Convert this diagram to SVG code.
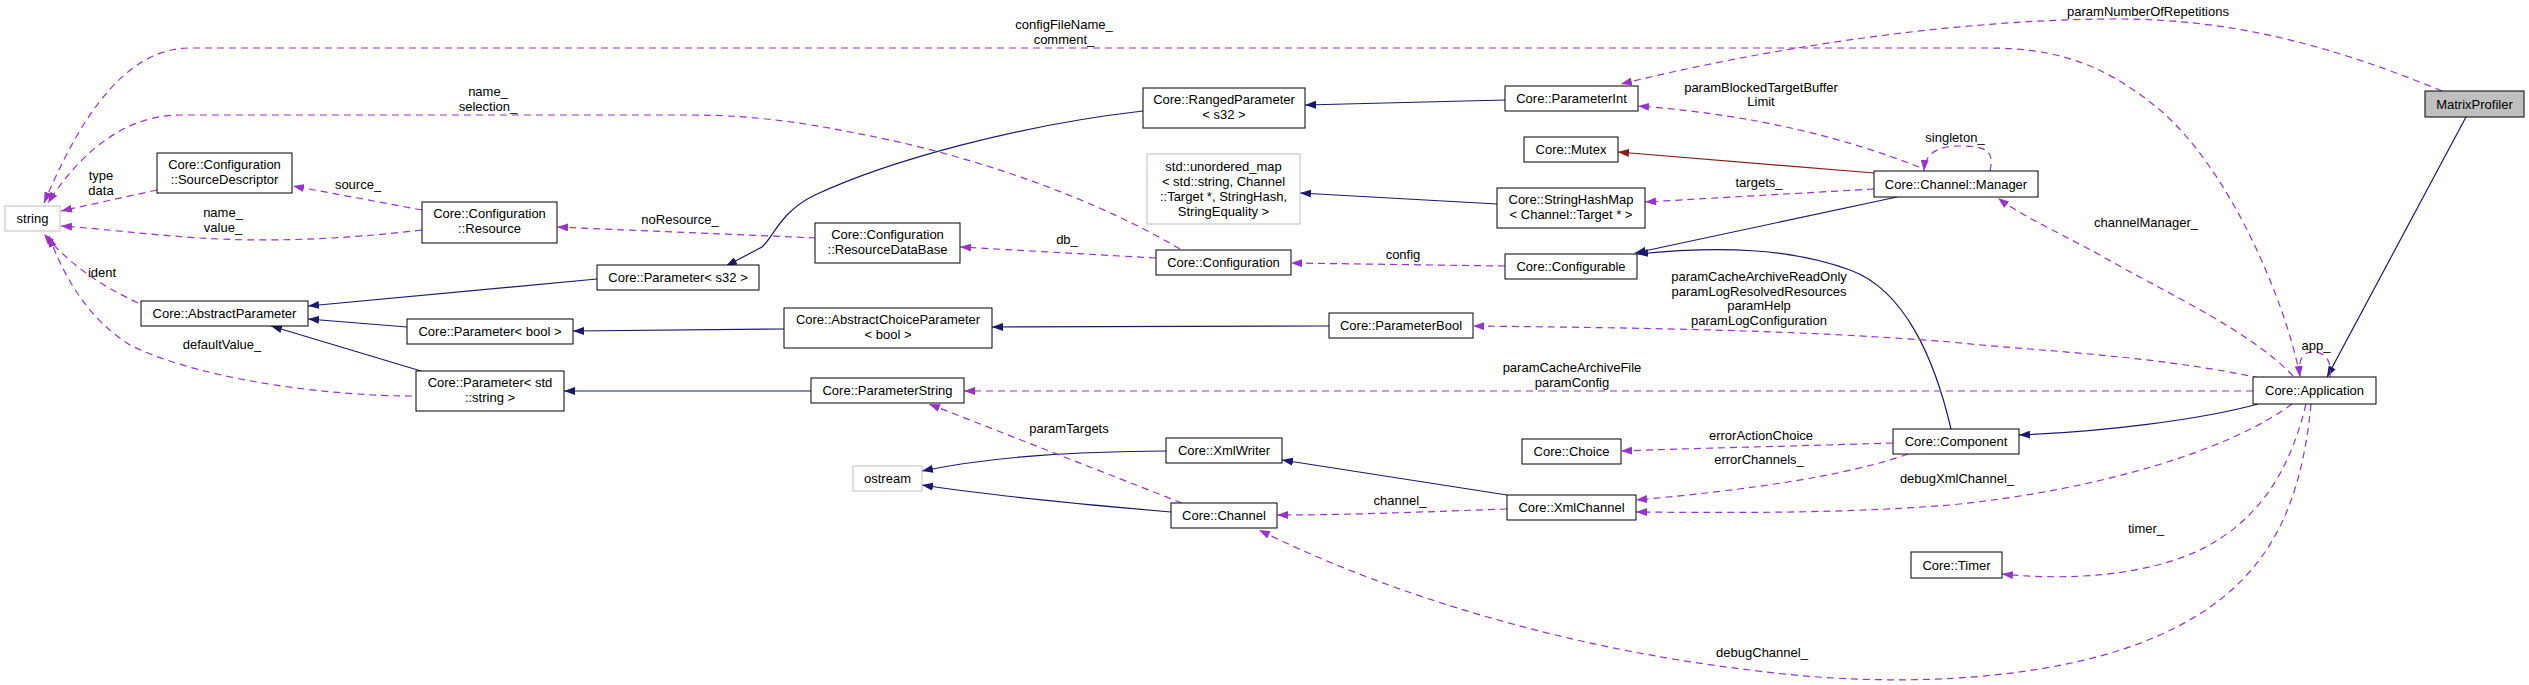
<svg xmlns="http://www.w3.org/2000/svg" width="2529" height="685" viewBox="0 0 2529 685">
<defs>
<style>
.n rect{fill:#fff;stroke:#000;stroke-width:1}
.g rect{fill:#fff;stroke:#bfbfbf;stroke-width:1}
.m rect{fill:#bfbfbf;stroke:#000;stroke-width:1}
text{font-family:"Liberation Sans",Arial,sans-serif;font-size:13px;fill:#000;text-anchor:middle}
.inh{fill:none;stroke:#191970;stroke-width:1.2}
.use{fill:none;stroke:#9a32cd;stroke-width:1.2;stroke-dasharray:7,5}
.red{fill:none;stroke:#8b1a1a;stroke-width:1.2}
</style>
<marker id="an" viewBox="0 0 11 8" markerWidth="11" markerHeight="8" refX="11" refY="4" orient="auto" markerUnits="userSpaceOnUse"><path d="M0,0 L11,4 L0,8 z" fill="#191970"/></marker>
<marker id="ap" viewBox="0 0 11 8" markerWidth="11" markerHeight="8" refX="11" refY="4" orient="auto" markerUnits="userSpaceOnUse"><path d="M0,0 L11,4 L0,8 z" fill="#9a32cd"/></marker>
<marker id="ar" viewBox="0 0 11 8" markerWidth="11" markerHeight="8" refX="11" refY="4" orient="auto" markerUnits="userSpaceOnUse"><path d="M0,0 L11,4 L0,8 z" fill="#8b1a1a"/></marker>
</defs>
<rect width="2529" height="685" fill="#fff"/>
<g id="connectors">
<path class="inh" marker-end="url(#an)" d="M597,279 L308,306"/>
<path class="inh" marker-end="url(#an)" d="M407,327 L308,319"/>
<path class="inh" marker-end="url(#an)" d="M421,371 L271,326"/>
<path class="inh" marker-end="url(#an)" d="M1143,111 C1020,125 890,160 815,195 C780,212 775,235 762,247 L726,266"/>
<path class="inh" marker-end="url(#an)" d="M1505,100 L1305,105"/>
<path class="inh" marker-end="url(#an)" d="M1497,204 L1300,193"/>
<path class="inh" marker-end="url(#an)" d="M784,329 L573,331"/>
<path class="inh" marker-end="url(#an)" d="M1329,326 L992,327"/>
<path class="inh" marker-end="url(#an)" d="M811,391 L564,391"/>
<path class="inh" marker-end="url(#an)" d="M1166,451 C1080,452 1000,455 922,471"/>
<path class="inh" marker-end="url(#an)" d="M1171,512 C1090,505 1000,497 922,485"/>
<path class="inh" marker-end="url(#an)" d="M1507,495 L1282,460"/>
<path class="inh" marker-end="url(#an)" d="M1897,197 L1635,253"/>
<path class="inh" marker-end="url(#an)" d="M1951,429 C1935,360 1905,290 1850,270 C1790,248 1720,246 1637,254"/>
<path class="inh" marker-end="url(#an)" d="M2258,404 C2200,420 2100,432 2019,435"/>
<path class="inh" marker-end="url(#an)" d="M2466,117 L2327,377"/>
<path class="red" marker-end="url(#ar)" d="M1874,173 L1618,152"/>

<path class="use" marker-end="url(#ap)" d="M2442,91 C2330,45 2230,18 2110,19 C1960,20 1780,45 1621,84"/>
<path class="use" marker-end="url(#ap)" d="M2300,376 C2285,300 2230,170 2160,110 C2100,60 2050,48 1986,48 L190,48 C120,48 75,130 44,203"/>
<path class="use" marker-end="url(#ap)" d="M1180,249 C1080,190 950,150 850,132 C790,120 740,115 690,115 L180,115 C120,115 75,160 48,203"/>
<path class="use" marker-end="url(#ap)" d="M157,190 L61,211"/>
<path class="use" marker-end="url(#ap)" d="M422,210 L293,186"/>
<path class="use" marker-end="url(#ap)" d="M422,230 C340,240 260,242 200,238 C140,234 95,228 61,226"/>
<path class="use" marker-end="url(#ap)" d="M816,238 L557,227"/>
<path class="use" marker-end="url(#ap)" d="M138,303 C100,285 70,265 44,234"/>
<path class="use" marker-end="url(#ap)" d="M412,396 C330,396 200,380 130,345 C90,320 65,280 49,236"/>
<path class="use" marker-end="url(#ap)" d="M1156,258 L960,247"/>
<path class="use" marker-end="url(#ap)" d="M1505,266 L1291,263"/>
<path class="use" marker-end="url(#ap)" d="M1919,167 C1850,140 1760,115 1638,106"/>
<path class="use" marker-end="url(#ap)" d="M1990,171 C1995,150 1985,146 1960,146 C1935,146 1925,155 1924,171"/>
<path class="use" marker-end="url(#ap)" d="M1874,189 L1645,202"/>
<path class="use" marker-end="url(#ap)" d="M2293,376 C2250,330 2160,290 2100,255 C2050,228 2020,215 1998,198"/>
<path class="use" marker-end="url(#ap)" d="M2260,378 C2150,355 2050,352 1950,342 C1800,330 1650,328 1473,326"/>
<path class="use" marker-end="url(#ap)" d="M2253,391 L964,391"/>
<path class="use" marker-end="url(#ap)" d="M1182,503 L929,404"/>
<path class="use" marker-end="url(#ap)" d="M1507,509 C1420,512 1350,515 1277,515"/>
<path class="use" marker-end="url(#ap)" d="M1893,443 C1800,446 1700,448 1621,451"/>
<path class="use" marker-end="url(#ap)" d="M1908,454 C1850,475 1750,490 1636,500"/>
<path class="use" marker-end="url(#ap)" d="M2292,404 C2230,450 2100,490 1950,505 C1850,513 1750,513 1636,512"/>
<path class="use" marker-end="url(#ap)" d="M2306,404 C2290,470 2260,520 2200,550 C2140,578 2060,580 2002,574"/>
<path class="use" marker-end="url(#ap)" d="M2311,404 C2300,520 2260,590 2160,635 C2060,680 1900,690 1750,670 C1580,650 1400,600 1259,530"/>
<path class="use" marker-end="url(#ap)" d="M2330,377 C2332,360 2325,352 2313,352 C2302,352 2298,360 2300,377"/>

<text x="2148" y="16">paramNumberOfRepetitions</text>
<text x="1064" y="29">configFileName_</text>
<text x="1064" y="44">comment_</text>
<text x="488" y="96">name_</text>
<text x="488" y="111">selection_</text>
<text x="101" y="180">type</text>
<text x="101" y="195">data</text>
<text x="358" y="189">source_</text>
<text x="223" y="217">name_</text>
<text x="223" y="232">value_</text>
<text x="680" y="224">noResource_</text>
<text x="102" y="277">ident</text>
<text x="222" y="349">defaultValue_</text>
<text x="1067" y="244">db_</text>
<text x="1403" y="259">config</text>
<text x="1761" y="92">paramBlockedTargetBuffer</text>
<text x="1761" y="106">Limit</text>
<text x="1955" y="142">singleton_</text>
<text x="1759" y="187">targets_</text>
<text x="2146" y="227">channelManager_</text>
<text x="1759" y="281">paramCacheArchiveReadOnly</text>
<text x="1759" y="296">paramLogResolvedResources</text>
<text x="1759" y="310">paramHelp</text>
<text x="1759" y="325">paramLogConfiguration</text>
<text x="1572" y="372">paramCacheArchiveFile</text>
<text x="1572" y="387">paramConfig</text>
<text x="1069" y="433">paramTargets</text>
<text x="1400" y="505">channel_</text>
<text x="1761" y="440">errorActionChoice</text>
<text x="1759" y="464">errorChannels_</text>
<text x="1957" y="483">debugXmlChannel_</text>
<text x="2146" y="533">timer_</text>
<text x="1762" y="657">debugChannel_</text>
<text x="2316" y="350">app_</text>
</g>

<g id="node-string" class="g"><rect x="5" y="206" width="55" height="25"/><text x="32.5" y="223">string</text></g>
<g id="node-sourcedescriptor" class="n"><rect x="157" y="153" width="135" height="40"/><text x="224.5" y="169">Core::Configuration</text><text x="224.5" y="184">::SourceDescriptor</text></g>
<g id="node-resource" class="n"><rect x="422" y="202" width="135" height="41"/><text x="489.5" y="218">Core::Configuration</text><text x="489.5" y="233">::Resource</text></g>
<g id="node-parameter-s32" class="n"><rect x="597" y="265" width="162" height="25"/><text x="678" y="282">Core::Parameter&lt; s32 &gt;</text></g>
<g id="node-abstractparameter" class="n"><rect x="141" y="301" width="167" height="25"/><text x="224.5" y="318">Core::AbstractParameter</text></g>
<g id="node-parameter-bool" class="n"><rect x="407" y="319" width="166" height="25"/><text x="490" y="336">Core::Parameter&lt; bool &gt;</text></g>
<g id="node-parameter-string" class="n"><rect x="416" y="371" width="148" height="40"/><text x="490" y="387">Core::Parameter&lt; std</text><text x="490" y="402">::string &gt;</text></g>
<g id="node-rangedparameter" class="n"><rect x="1143" y="88" width="162" height="40"/><text x="1224" y="104">Core::RangedParameter</text><text x="1224" y="119">&lt; s32 &gt;</text></g>
<g id="node-parameterint" class="n"><rect x="1505" y="86" width="133" height="25"/><text x="1571.5" y="103">Core::ParameterInt</text></g>
<g id="node-mutex" class="n"><rect x="1524" y="137" width="94" height="25"/><text x="1571" y="154">Core::Mutex</text></g>
<g id="node-unordered-map" class="g"><rect x="1147" y="154" width="153" height="70"/><text x="1223.5" y="171">std::unordered_map</text><text x="1223.5" y="186">&lt; std::string, Channel</text><text x="1223.5" y="201">::Target *, StringHash,</text><text x="1223.5" y="216">StringEquality &gt;</text></g>
<g id="node-stringhashmap" class="n"><rect x="1497" y="188" width="148" height="40"/><text x="1571" y="204">Core::StringHashMap</text><text x="1571" y="219">&lt; Channel::Target * &gt;</text></g>
<g id="node-resourcedatabase" class="n"><rect x="815" y="223" width="145" height="40"/><text x="887.5" y="239">Core::Configuration</text><text x="887.5" y="254">::ResourceDataBase</text></g>
<g id="node-configuration" class="n"><rect x="1156" y="250" width="135" height="25"/><text x="1223.5" y="267">Core::Configuration</text></g>
<g id="node-configurable" class="n"><rect x="1505" y="254" width="132" height="25"/><text x="1571" y="271">Core::Configurable</text></g>
<g id="node-abstractchoiceparameter" class="n"><rect x="784" y="308" width="208" height="40"/><text x="888" y="324">Core::AbstractChoiceParameter</text><text x="888" y="339">&lt; bool &gt;</text></g>
<g id="node-parameterbool" class="n"><rect x="1329" y="313" width="144" height="25"/><text x="1401" y="330">Core::ParameterBool</text></g>
<g id="node-parameterstring" class="n"><rect x="811" y="378" width="153" height="25"/><text x="887.5" y="395">Core::ParameterString</text></g>
<g id="node-ostream" class="g"><rect x="853" y="466" width="69" height="25"/><text x="887.5" y="483">ostream</text></g>
<g id="node-xmlwriter" class="n"><rect x="1166" y="438" width="116" height="25"/><text x="1224" y="455">Core::XmlWriter</text></g>
<g id="node-channel" class="n"><rect x="1171" y="503" width="106" height="25"/><text x="1224" y="520">Core::Channel</text></g>
<g id="node-choice" class="n"><rect x="1522" y="439" width="99" height="25"/><text x="1571.5" y="456">Core::Choice</text></g>
<g id="node-xmlchannel" class="n"><rect x="1507" y="495" width="129" height="25"/><text x="1571.5" y="512">Core::XmlChannel</text></g>
<g id="node-channel-manager" class="n"><rect x="1874" y="171" width="164" height="26"/><text x="1956" y="188.5">Core::Channel::Manager</text></g>
<g id="node-matrixprofiler" class="m"><rect x="2425" y="91" width="99" height="26"/><text x="2474.5" y="108.5">MatrixProfiler</text></g>
<g id="node-application" class="n"><rect x="2253" y="377" width="123" height="27"/><text x="2314.5" y="395">Core::Application</text></g>
<g id="node-component" class="n"><rect x="1893" y="429" width="126" height="25"/><text x="1956" y="446">Core::Component</text></g>
<g id="node-timer" class="n"><rect x="1911" y="552" width="91" height="26"/><text x="1956.5" y="569.5">Core::Timer</text></g>
</svg>
